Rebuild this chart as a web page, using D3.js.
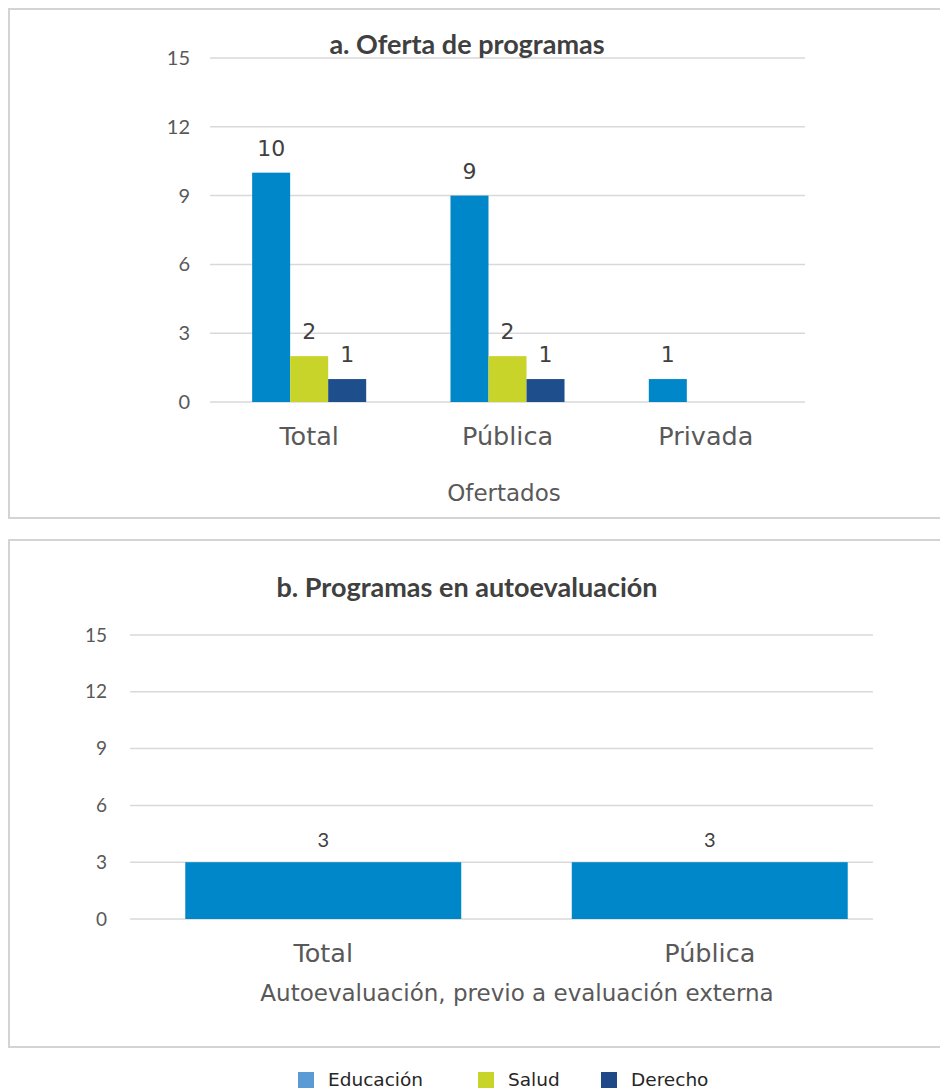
<!DOCTYPE html>
<html><head><meta charset="utf-8">
<script src="https://cdn.jsdelivr.net/npm/d3@7"></script>
<style>
body{margin:0;background:#fff;}
svg{display:block;font-family:"DejaVu Sans","Noto Sans",sans-serif;}
.num{font-family:"Lato","Noto Sans",sans-serif;}
.ttl{font-family:"Lato","Noto Sans",sans-serif;font-weight:bold;}
</style></head>
<body>
<script>
// ---- data ----
const series = ["Educación", "Salud", "Derecho"];
const seriesColors = ["#0087c9", "#c8d42a", "#1f4e8c"];
const legendColors = ["#5b9bd5", "#c8d42a", "#204a87"];

const catsA = ["Total", "Pública", "Privada"];
const educacionA = [10, 9, 1];
const saludA = [2, 2, null];
const derechoA = [1, 1, null];
const titleA = "a. Oferta de programas";
const axisTitleA = "Ofertados";

const catsB = ["Total", "Pública"];
const educacionB = [3, 3];
const titleB = "b. Programas en autoevaluación";
const axisTitleB = "Autoevaluación, previo a evaluación externa";

const yTicks = [0, 3, 6, 9, 12, 15];

const W = 940, H = 1091;
const svg = d3.select("body").append("svg").attr("width", W).attr("height", H);

const textCol = "#595959";
const gridCol = "#d9d9d9";

// panel borders
svg.append("rect").attr("x", 9).attr("y", 9).attr("width", 960).attr("height", 509)
  .attr("fill", "none").attr("stroke", "#d4d4d4").attr("stroke-width", 2);
svg.append("rect").attr("x", 9).attr("y", 540).attr("width", 960).attr("height", 507)
  .attr("fill", "none").attr("stroke", "#d4d4d4").attr("stroke-width", 2);

// ---------- Chart A ----------
{
  const y = d3.scaleLinear().domain([0, 15]).range([402, 58]);
  const x0 = d3.scaleBand().domain(catsA).range([210, 805]).paddingInner(0.425).paddingOuter(0.2125);
  const x1 = d3.scaleBand().domain(series).range([0, x0.bandwidth()]);
  const g = svg.append("g");
  g.selectAll("line.grid").data(yTicks).join("line")
    .attr("x1", 210).attr("x2", 805)
    .attr("y1", d => y(d)).attr("y2", d => y(d))
    .attr("stroke", gridCol).attr("stroke-width", 1.5);
  g.selectAll("text.yt").data(yTicks).join("text").attr("class", "num")
    .attr("x", 190).attr("y", d => y(d)).attr("dy", "0.35em")
    .attr("text-anchor", "end").attr("font-size", 20).attr("fill", textCol)
    .text(d => d);
  const vals = [educacionA, saludA, derechoA];
  const recs = [];
  catsA.forEach((c, i) => series.forEach((s, j) => {
    if (vals[j][i] != null) recs.push({c, s, j, v: vals[j][i]});
  }));
  g.selectAll("rect.bar").data(recs).join("rect")
    .attr("x", d => x0(d.c) + x1(d.s)).attr("width", x1.bandwidth())
    .attr("y", d => y(d.v)).attr("height", d => y(0) - y(d.v))
    .attr("fill", d => seriesColors[d.j]);
  g.selectAll("text.lab").data(recs).join("text")
    .attr("x", d => x0(d.c) + x1(d.s) + x1.bandwidth() / 2)
    .attr("y", d => y(d.v) - 17)
    .attr("text-anchor", "middle").attr("font-size", 22).attr("fill", "#404040")
    .text(d => d.v);
  g.selectAll("text.cat").data(catsA).join("text")
    .attr("x", d => x0(d) + x0.bandwidth() / 2).attr("y", 445)
    .attr("text-anchor", "middle").attr("font-size", 25.5).attr("fill", textCol)
    .text(d => d);
  g.append("text").attr("x", 504).attr("y", 501).attr("text-anchor", "middle")
    .attr("font-size", 23).attr("fill", textCol).text(axisTitleA);
  g.append("text").attr("class", "ttl").attr("x", 467).attr("y", 54).attr("text-anchor", "middle")
    .attr("font-size", 27).attr("fill", "#404040").text(titleA);
}

// ---------- Chart B ----------
{
  const y = d3.scaleLinear().domain([0, 15]).range([919, 635]);
  const x = d3.scaleBand().domain(catsB).range([130, 903]).paddingInner(0.286).paddingOuter(0.143);
  const g = svg.append("g");
  g.selectAll("line.grid").data(yTicks).join("line")
    .attr("x1", 130).attr("x2", 873)
    .attr("y1", d => y(d)).attr("y2", d => y(d))
    .attr("stroke", gridCol).attr("stroke-width", 1.5);
  g.selectAll("text.yt").data(yTicks).join("text").attr("class", "num")
    .attr("x", 107).attr("y", d => y(d)).attr("dy", "0.35em")
    .attr("text-anchor", "end").attr("font-size", 19).attr("fill", textCol)
    .text(d => d);
  const recs = catsB.map((c, i) => ({c, v: educacionB[i]}));
  g.selectAll("rect.bar").data(recs).join("rect")
    .attr("x", d => x(d.c)).attr("width", x.bandwidth())
    .attr("y", d => y(d.v)).attr("height", d => y(0) - y(d.v))
    .attr("fill", seriesColors[0]);
  g.selectAll("text.lab").data(recs).join("text").attr("class", "num")
    .attr("x", d => x(d.c) + x.bandwidth() / 2).attr("y", d => y(d.v) - 15)
    .attr("text-anchor", "middle").attr("font-size", 20).attr("fill", "#404040")
    .text(d => d.v);
  g.selectAll("text.cat").data(catsB).join("text")
    .attr("x", d => x(d) + x.bandwidth() / 2).attr("y", 962)
    .attr("text-anchor", "middle").attr("font-size", 25.5).attr("fill", textCol)
    .text(d => d);
  g.append("text").attr("x", 517).attr("y", 1001).attr("text-anchor", "middle")
    .attr("font-size", 23).attr("fill", textCol).text(axisTitleB);
  g.append("text").attr("class", "ttl").attr("x", 467).attr("y", 597).attr("text-anchor", "middle")
    .attr("font-size", 27).attr("fill", "#404040").text(titleB);
}

// ---------- Legend ----------
{
  const lx = [298, 478, 601];
  const lg = svg.append("g");
  series.forEach((s, i) => {
    lg.append("rect").attr("x", lx[i]).attr("y", 1072).attr("width", 16).attr("height", 16)
      .attr("fill", legendColors[i]);
    lg.append("text").attr("x", lx[i] + 30).attr("y", 1086).attr("font-size", 18.5)
      .attr("fill", "#262626").text(s);
  });
}
</script>
</body></html>
